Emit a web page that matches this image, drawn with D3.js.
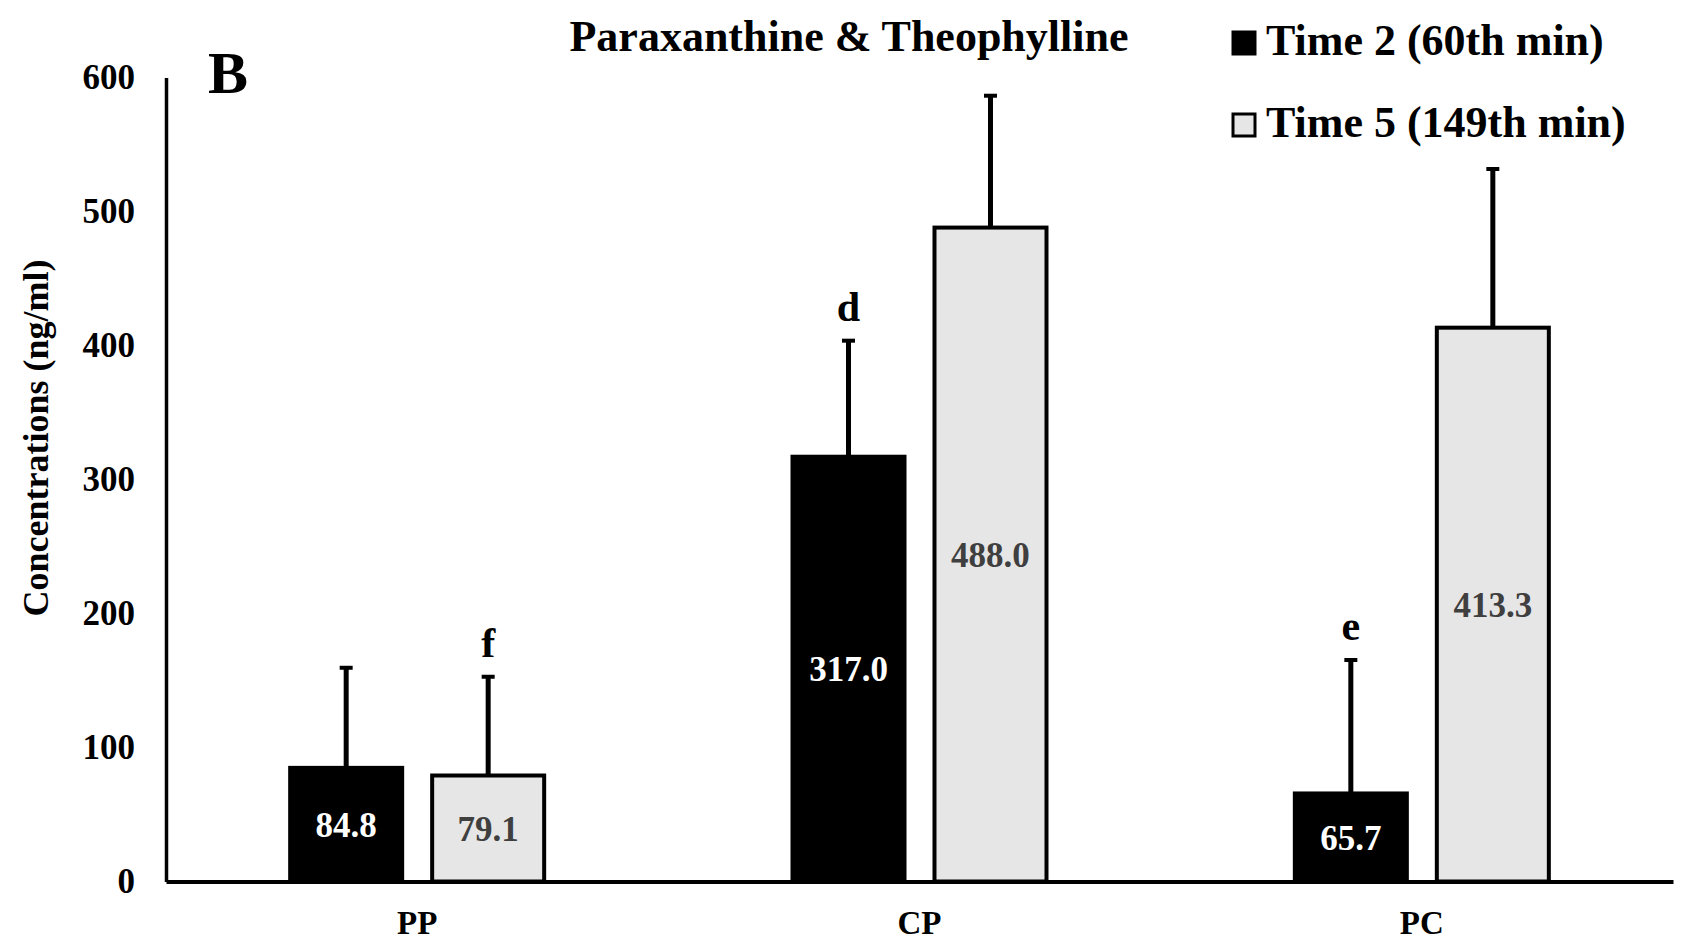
<!DOCTYPE html>
<html>
<head>
<meta charset="utf-8">
<script src="https://cdn.jsdelivr.net/npm/d3@7"></script>
<style>
  html, body { margin: 0; padding: 0; background: #fff; }
  svg { display: block; }
  text { font-family: "Liberation Serif", "Times New Roman", serif; font-weight: bold; }
</style>
</head>
<body>
<svg id="chart" width="1685" height="944"></svg>
<script>
// Paraxanthine & Theophylline concentrations by group and sampling time
const categories = ["PP", "CP", "PC"];
const seriesNames = ["Time 2 (60th min)", "Time 5 (149th min)"];
const time2Means = [84.8, 317.0, 65.7];
const time5Means = [79.1, 488.0, 413.3];
const time2SD = [74.7, 86.6, 99.6];
const time5SD = [73.7, 98.4, 118.4];
// significance letters: [category index, series index, letter]
const sigLetters = [[1, 0, "d"], [2, 0, "e"], [0, 1, "f"]];
const yTicks = [0, 100, 200, 300, 400, 500, 600];

const fills = ["#000000", "#e6e6e6"];
const labelColors = ["#ffffff", "#3f3f3f"];

const svg = d3.select("#chart");
const plotLeft = 166, plotRight = 1673, plotTop = 77.5, plotBottom = 881.5;

const y = d3.scaleLinear().domain([0, 600]).range([plotBottom, plotTop]);
const x = d3.scaleBand().domain(categories).range([plotLeft, plotRight])
  .paddingInner(0.4864).paddingOuter(0.2432);
const sub = d3.scaleBand().domain([0, 1]).range([0, x.bandwidth()]).paddingInner(0.183);

const rows = categories.map((c, i) => [
  { cat: c, s: 0, v: time2Means[i], sd: time2SD[i] },
  { cat: c, s: 1, v: time5Means[i], sd: time5SD[i] }
]).flat();

const g = svg.append("g");

// bars
g.selectAll("rect.bar").data(rows).join("rect")
  .attr("class", "bar")
  .attr("x", d => x(d.cat) + sub(d.s) + 2)
  .attr("width", sub.bandwidth() - 4)
  .attr("y", d => y(d.v))
  .attr("height", d => y(0) - y(d.v))
  .attr("fill", d => fills[d.s])
  .attr("stroke", "#000")
  .attr("stroke-width", 4);

// error bars (upper)
const cx = d => x(d.cat) + sub(d.s) + sub.bandwidth() / 2;
g.selectAll("line.err").data(rows).join("line")
  .attr("class", "err")
  .attr("x1", cx).attr("x2", cx)
  .attr("y1", d => y(d.v)).attr("y2", d => y(d.v + d.sd))
  .attr("stroke", "#000").attr("stroke-width", 5);
g.selectAll("line.cap").data(rows).join("line")
  .attr("class", "cap")
  .attr("x1", d => cx(d) - 6.5).attr("x2", d => cx(d) + 6.5)
  .attr("y1", d => y(d.v + d.sd)).attr("y2", d => y(d.v + d.sd))
  .attr("stroke", "#000").attr("stroke-width", 4);

// value labels centred in bars
g.selectAll("text.val").data(rows).join("text")
  .attr("class", "val")
  .attr("x", cx)
  .attr("y", d => (y(d.v) + y(0)) / 2)
  .attr("dy", "0.35em")
  .attr("text-anchor", "middle")
  .attr("font-size", 35)
  .attr("fill", d => labelColors[d.s])
  .text(d => d.v.toFixed(1));

// significance letters above error caps
g.selectAll("text.sig").data(sigLetters).join("text")
  .attr("class", "sig")
  .attr("x", d => cx(rows[d[0] * 2 + d[1]]))
  .attr("y", d => { const r = rows[d[0] * 2 + d[1]]; return y(r.v + r.sd) - 20; })
  .attr("text-anchor", "middle")
  .attr("font-size", 42)
  .attr("fill", "#000")
  .text(d => d[2]);

// axes
const yAxis = d3.axisLeft(y).tickValues(yTicks).tickSize(0).tickPadding(31);
const ya = svg.append("g").attr("transform", `translate(${plotLeft},0)`).call(yAxis);
ya.select(".domain").attr("stroke", "#000").attr("stroke-width", 3.5);
ya.selectAll("text").attr("font-size", 35).attr("fill", "#000")
  .attr("font-family", "Liberation Serif").attr("font-weight", "bold");

const xAxis = d3.axisBottom(x).tickSize(0).tickPadding(29);
const xa = svg.append("g").attr("transform", `translate(0,${plotBottom})`).call(xAxis);
xa.select(".domain").attr("stroke", "#000").attr("stroke-width", 4);
xa.selectAll("text").attr("font-size", 33).attr("fill", "#000")
  .attr("font-family", "Liberation Serif").attr("font-weight", "bold");

// axis title
svg.append("text")
  .attr("transform", `translate(48,438) rotate(-90)`)
  .attr("text-anchor", "middle")
  .attr("font-size", 36)
  .text("Concentrations (ng/ml)");

// chart title and panel letter
svg.append("text").attr("x", 849).attr("y", 51).attr("text-anchor", "middle")
  .attr("font-size", 44).text("Paraxanthine & Theophylline");
svg.append("text").attr("x", 208).attr("y", 93).attr("font-size", 60).text("B");

// legend
const legend = svg.append("g");
seriesNames.forEach((name, i) => {
  const ly = 55 + i * 82;
  legend.append("rect")
    .attr("x", 1233).attr("y", ly - 23).attr("width", 22).attr("height", 22)
    .attr("fill", fills[i]).attr("stroke", "#000").attr("stroke-width", 3);
  legend.append("text").attr("x", 1266).attr("y", ly)
    .attr("font-size", 44).text(name);
});
</script>
</body>
</html>
